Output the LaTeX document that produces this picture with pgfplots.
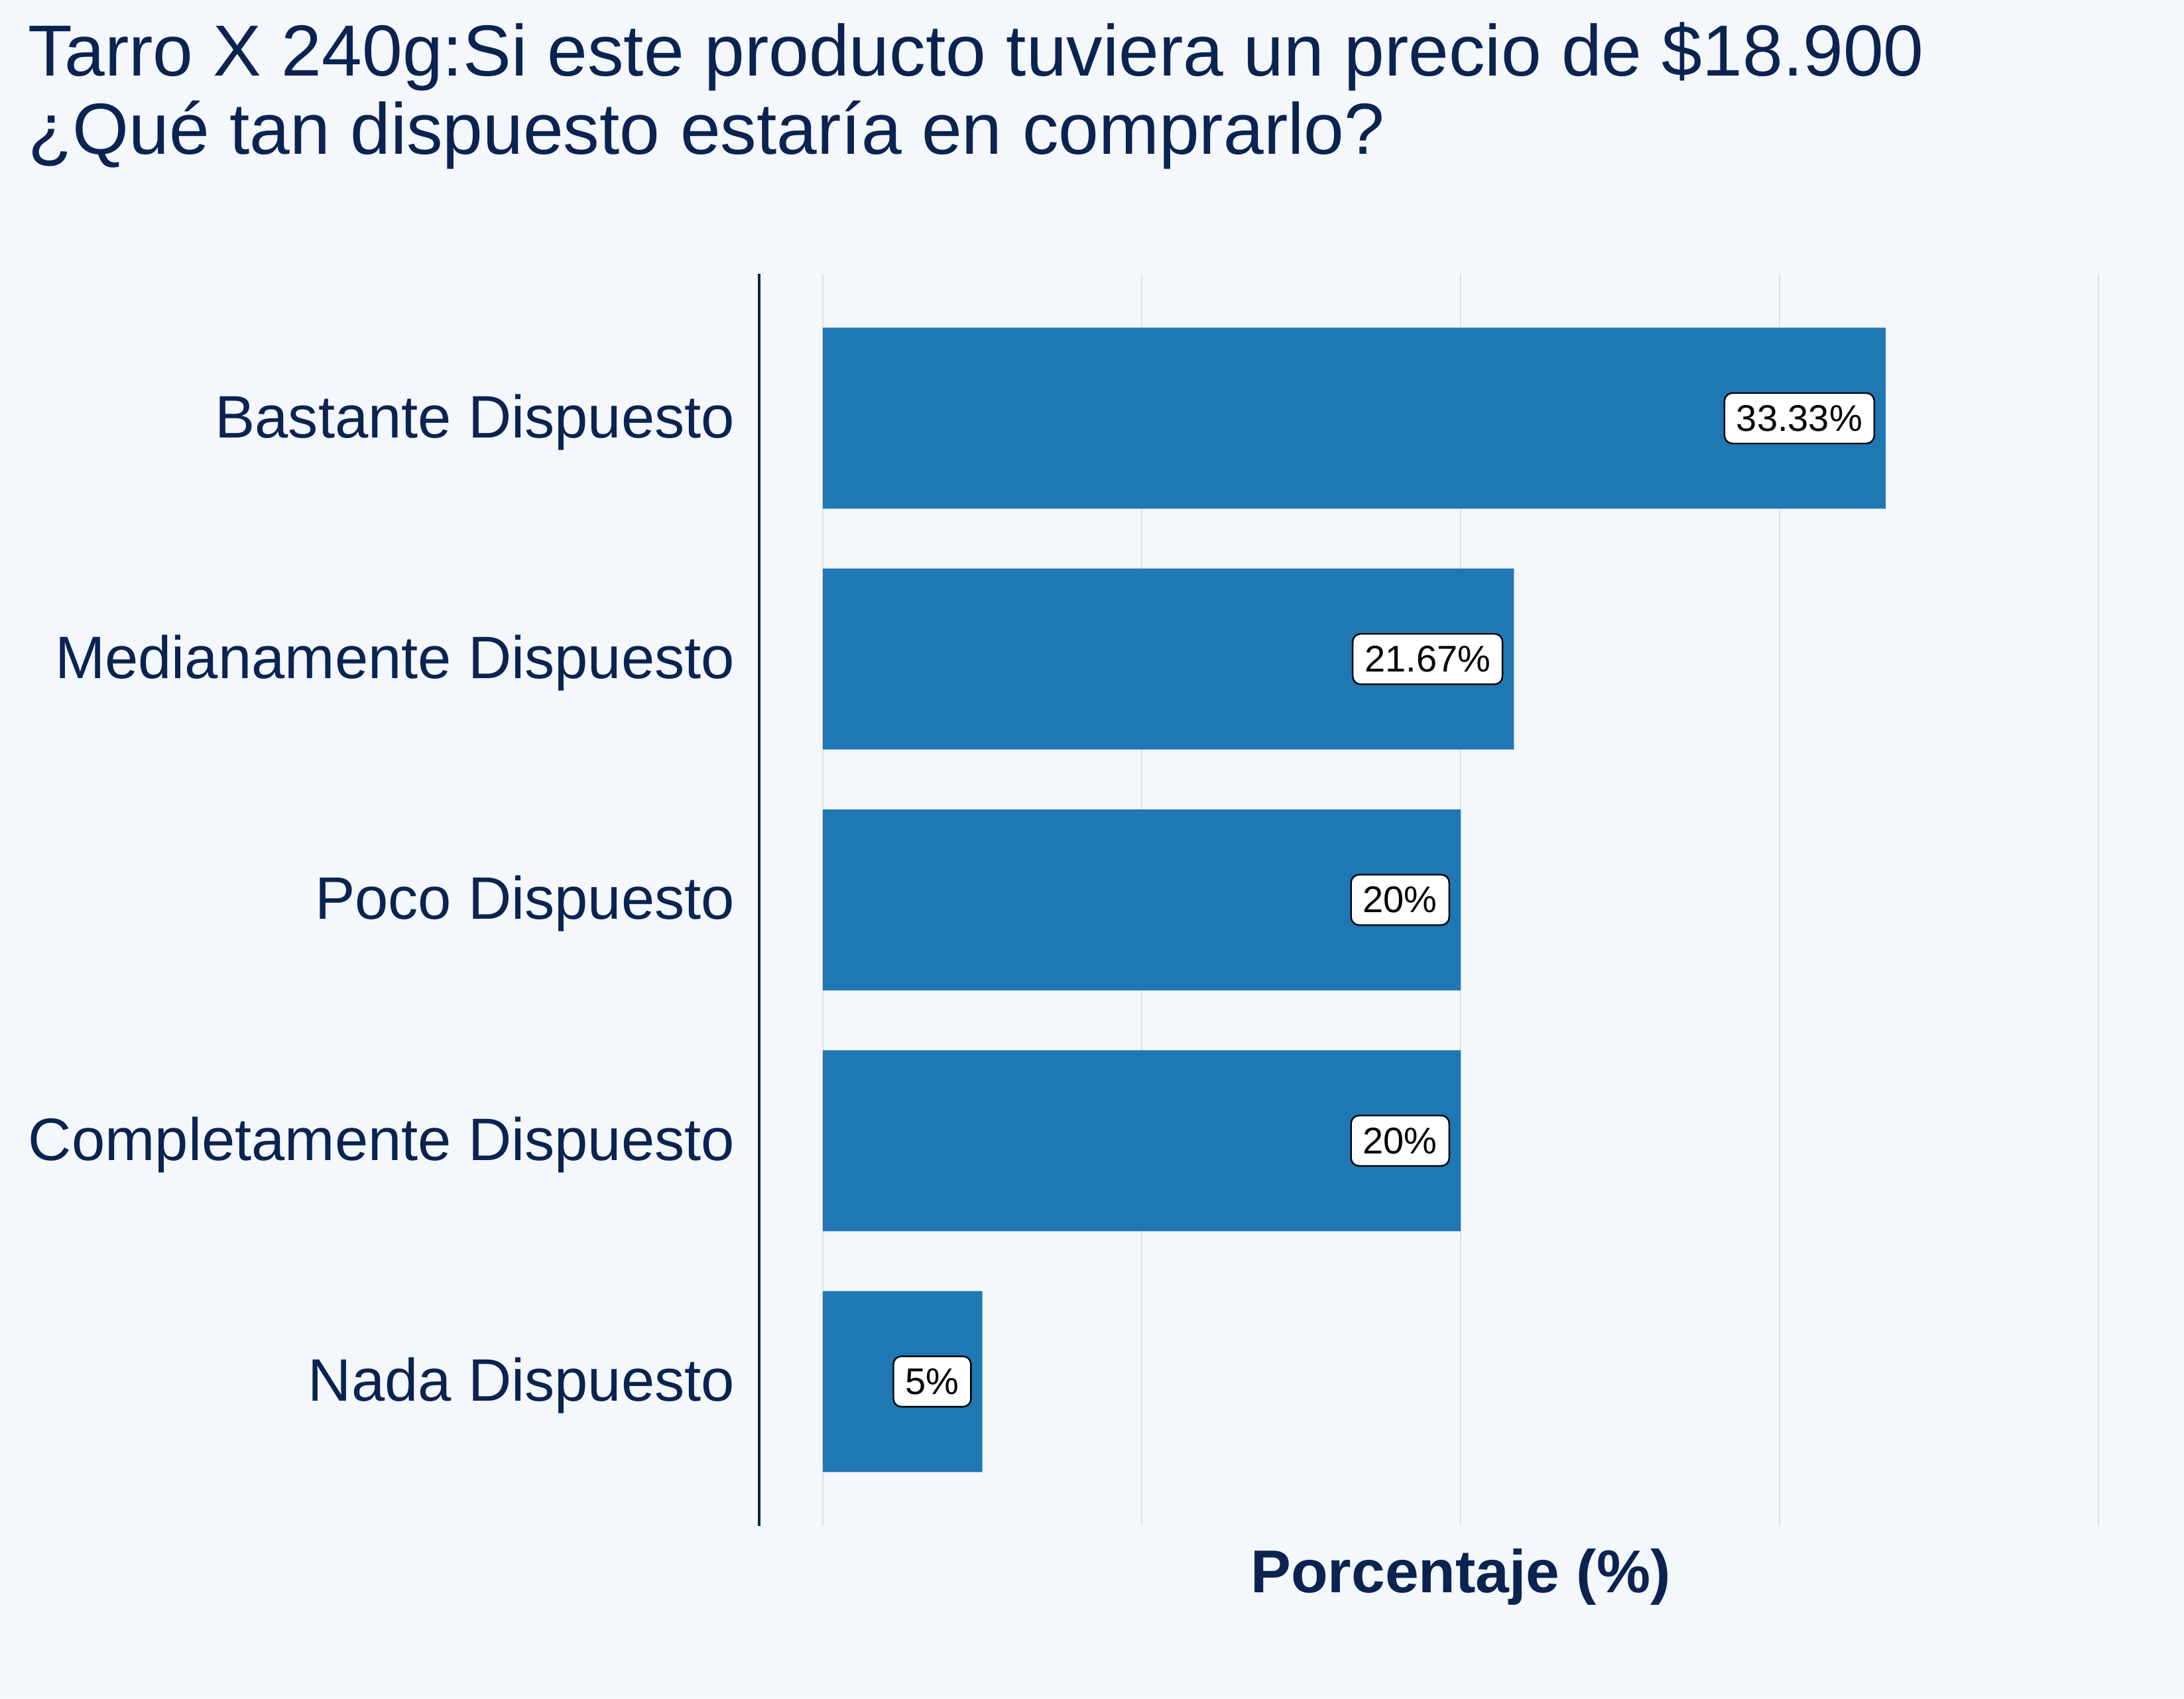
\documentclass[border=0pt]{standalone}
\usepackage{fontspec}
\setmainfont{Liberation Sans}
\usepackage{pgfplots}
\pgfplotsset{compat=1.18}
\definecolor{bg}{HTML}{F4F7FC}
\definecolor{navy}{HTML}{0A2351}
\definecolor{barblue}{HTML}{1F77B4}
\definecolor{gridc}{HTML}{DCE1E8}
\begin{document}
\begin{tikzpicture}
\fill[bg] (-286.25pt,-65pt) rectangle (537.25pt,575.5pt);
\begin{axis}[name=ax, at={(0,0)}, anchor=south west, scale only axis,
  width=529pt, height=472.25pt,
  xmin=-2, xmax=42, ymin=-0.6, ymax=4.6,
  xbar, bar width=68.25pt,
  axis line style={draw=none},
  major tick length=0pt,
  xtick={0,10,20,30,40}, xticklabels={},
  xmajorgrids, major grid style={gridc, line width=0.5pt},
  ytick={0,1,2,3,4},
  yticklabels={Nada Dispuesto, Completamente Dispuesto, Poco Dispuesto, Medianamente Dispuesto, Bastante Dispuesto},
  yticklabel style={font=\fontsize{22.6}{27}\selectfont, text=navy, inner sep=0pt, xshift=-9pt, yshift=-1.5pt},
  nodes near coords, point meta=explicit symbolic,
  every node near coord/.append style={anchor=east, xshift=-4pt, fill=white, draw=black,
    rounded corners=3pt, line width=0.6pt, font=\fontsize{14}{16}\selectfont, text=black,
    inner xsep=4.5pt, inner ysep=0pt, minimum height=19pt},
]
\addplot[fill=barblue, draw=none] coordinates {
  (5,0) [5\%]
  (20,1) [20\%]
  (20,2) [20\%]
  (21.67,3) [21.67\%]
  (33.33,4) [33.33\%]
};
\end{axis}
\draw[navy, line width=0.8pt] (ax.south west) -- (ax.north west);
\node[anchor=base west, text=navy, font=\fontsize{27.3}{33}\selectfont, inner sep=0pt] at (-275.75pt,546.75pt) {Tarro X 240g:Si este producto tuviera un precio de \$18.900};
\node[anchor=base west, text=navy, font=\fontsize{27.3}{33}\selectfont, inner sep=0pt] at (-275.75pt,517.25pt) {¿Qué tan dispuesto estaría en comprarlo?};
\node[anchor=base, text=navy, font=\bfseries\fontsize{22.8}{27}\selectfont, inner sep=0pt] at ([yshift=-25pt]ax.south) {Porcentaje (\%)};
\end{tikzpicture}
\end{document}
